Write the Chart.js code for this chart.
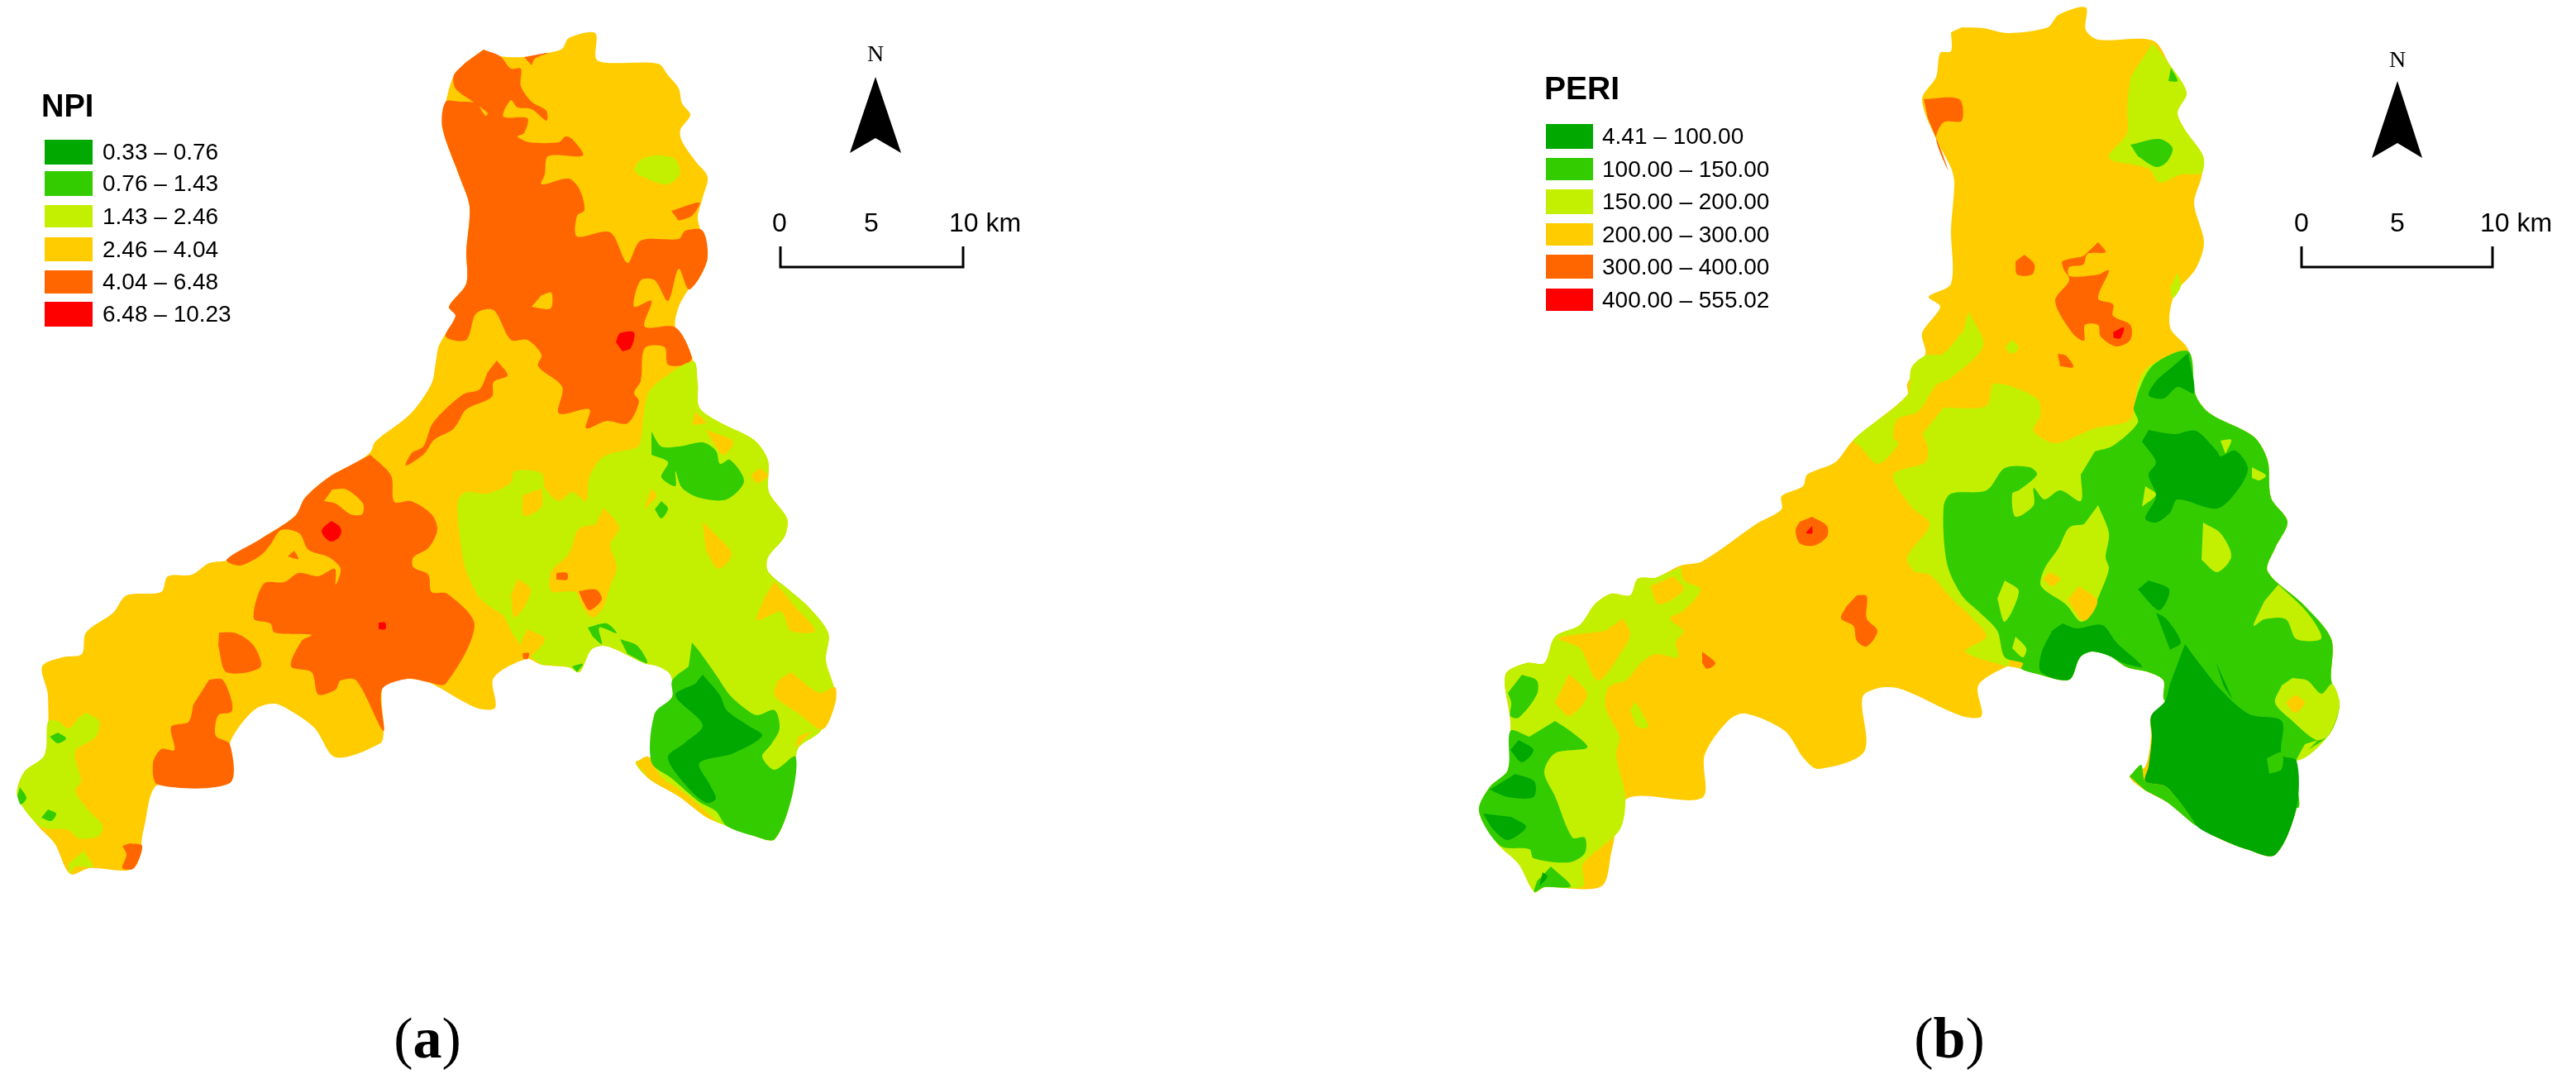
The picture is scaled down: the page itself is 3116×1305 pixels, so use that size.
<!DOCTYPE html>
<html>
<head>
<meta charset="utf-8">
<title>NPI and PERI maps</title>
<script src="https://cdn.jsdelivr.net/npm/chart.js@4/dist/chart.umd.min.js"></script>
<style>
html, body { margin: 0; padding: 0; background: #fff; }
#page { position: relative; width: 3116px; height: 1305px; overflow: hidden; }
canvas { position: absolute; top: 0; }
.t { position: absolute; white-space: nowrap; font-family: "Liberation Sans", Arial, sans-serif; color: #000; line-height: 1; transform: translateY(-50%); }
.swatch { position: absolute; }
</style>
</head>
<body>
<div id="page">
  <canvas id="mapA"></canvas>
  <canvas id="mapB"></canvas>
</div>
<script>
// class colours, low to high
const classColors = ['#00A800', '#33CC00', '#C3F000', '#FFCC00', '#FF6600', '#FF0000'];
const npiLabels = ['0.33 – 0.76', '0.76 – 1.43', '1.43 – 2.46', '2.46 – 4.04', '4.04 – 6.48', '6.48 – 10.23'];
const periLabels = ['4.41 – 100.00', '100.00 – 150.00', '150.00 – 200.00', '200.00 – 300.00', '300.00 – 400.00', '400.00 – 555.02'];
const scaleLabels = ['0', '5', '10 km'];

// map polygons, [class index, outline], painted in this order
const npiLayers = [
  [3, [[585,60],[605,68],[634,69],[663,64],[680,59],[688,46],[720,40],[721,71],[734,76],[796,77],[808,91],[821,107],[825,125],[835,139],[823,157],[825,171],[842,196],[856,214],[850,239],[844,264],[850,286],[856,311],[846,336],[833,350],[821,371],[817,396],[837,432],[844,464],[846,493],[871,511],[912,532],[929,557],[930,595],[952,627],[949,649],[929,674],[929,691],[954,713],[978,734],[1002,766],[999,799],[1010,838],[1003,866],[991,886],[966,904],[962,924],[958,963],[937,1015],[912,1011],[879,999],[854,988],[821,963],[796,949],[784,941],[769,922],[788,915],[792,888],[792,863],[813,843],[811,816],[796,806],[779,802],[746,786],[730,781],[715,786],[701,813],[688,807],[655,804],[637,797],[597,820],[599,856],[576,856],[518,825],[493,821],[473,824],[462,834],[464,884],[460,899],[406,916],[381,881],[357,863],[332,851],[307,859],[278,899],[278,947],[191,949],[174,1002],[162,1050],[108,1050],[85,1057],[66,1020],[46,999],[21,963],[29,934],[54,913],[58,841],[51,806],[75,795],[99,791],[104,765],[137,741],[153,720],[195,716],[203,697],[232,695],[253,681],[278,677],[315,652],[357,624],[369,602],[398,577],[431,559],[448,547],[454,534],[497,500],[522,464],[527,439],[531,418],[551,382],[543,371],[564,343],[564,304],[568,250],[556,214],[535,154],[539,125],[549,91],[564,75]]],
  [4, [[585,60],[605,68],[618,83],[630,83],[630,104],[643,123],[661,134],[661,146],[643,132],[626,130],[618,121],[609,141],[638,143],[634,161],[626,165],[640,172],[676,172],[684,165],[692,168],[705,188],[663,189],[659,211],[655,223],[688,216],[701,229],[707,254],[698,261],[698,286],[738,281],[759,318],[775,291],[821,289],[829,279],[850,279],[856,311],[846,336],[833,350],[821,325],[808,364],[792,339],[775,339],[767,371],[788,364],[780,395],[817,396],[837,432],[829,441],[808,441],[804,420],[780,421],[775,461],[767,475],[773,486],[759,512],[734,509],[709,518],[713,495],[676,500],[680,468],[651,443],[655,429],[638,411],[618,411],[597,375],[576,379],[564,411],[539,407],[551,382],[543,371],[564,343],[564,304],[568,250],[556,214],[535,154],[539,123],[557,123],[576,125],[587,140],[590,137],[572,123],[551,107],[549,91],[564,75]]],
  [3, [[655,357],[667,354],[666,373],[643,371]]],
  [4, [[634,69],[663,64],[647,71],[643,79]]],
  [2, [[767,204],[775,193],[796,188],[817,193],[822,211],[808,223],[792,220],[771,211]]],
  [4, [[812,255],[846,245],[837,261],[821,267]]],
  [5, [[745,414],[750,403],[767,402],[763,421],[753,425]]],
  [4, [[601,436],[614,454],[597,462],[595,480],[564,495],[554,511],[547,520],[525,532],[513,549],[491,563],[498,548],[512,540],[524,511],[560,477],[580,471],[590,450]]],
  [2, [[645,797],[622,770],[609,745],[593,734],[580,723],[564,691],[557,656],[554,606],[564,595],[589,597],[618,584],[622,570],[655,572],[659,590],[676,606],[692,595],[709,606],[713,577],[730,552],[771,541],[775,532],[783,478],[800,459],[839,437],[844,464],[846,493],[871,511],[912,532],[929,557],[930,595],[952,627],[949,649],[929,674],[929,691],[954,713],[978,734],[1002,766],[999,799],[1010,838],[1003,866],[991,886],[966,904],[962,924],[958,963],[937,1015],[912,1011],[879,999],[854,988],[821,963],[796,949],[784,941],[769,922],[788,915],[792,888],[792,863],[813,843],[811,816],[796,806],[779,802],[746,786],[730,781],[715,786],[701,813],[688,807],[655,804]]],
  [3, [[638,761],[659,773],[638,795],[630,777]]],
  [3, [[730,614],[749,638],[738,659],[746,686],[738,709],[730,734],[717,747],[705,734],[696,716],[667,715],[667,691],[688,670],[700,640],[721,634]]],
  [4, [[673,693],[686,693],[686,701],[673,701]]],
  [4, [[700,715],[721,713],[728,725],[713,738],[705,727]]],
  [3, [[626,700],[642,713],[634,734],[622,747],[618,720]]],
  [3, [[655,591],[655,613],[634,624],[632,599]]],
  [1, [[711,759],[734,754],[746,766],[725,759],[728,779],[717,770]]],
  [1, [[750,773],[771,781],[783,802],[759,791]]],
  [1, [[692,806],[705,803],[698,813]]],
  [4, [[632,790],[640,790],[638,797],[633,797]]],
  [3, [[788,591],[794,600],[779,616]]],
  [1, [[800,606],[808,615],[800,627],[792,616]]],
  [1, [[788,522],[800,540],[821,540],[850,535],[866,545],[871,561],[883,556],[900,582],[879,604],[846,602],[825,590],[817,570],[817,588],[800,577],[808,559],[788,550]]],
  [3, [[919,566],[929,575],[916,584],[908,575]]],
  [3, [[850,631],[866,647],[885,670],[869,688],[854,666]]],
  [3, [[854,520],[887,534],[875,550],[862,534]]],
  [3, [[841,498],[854,511],[837,514]]],
  [3, [[937,703],[962,734],[986,763],[957,763],[945,740],[916,750],[924,724]]],
  [3, [[957,813],[991,838],[1010,831],[1010,852],[995,882],[966,863],[937,841],[941,823]]],
  [3, [[982,884],[962,904],[966,891]]],
  [3, [[769,922],[784,915],[800,940],[829,960],[866,993],[854,988],[821,963],[796,949],[784,941]]],
  [1, [[837,777],[846,788],[866,816],[883,841],[904,859],[916,865],[937,859],[943,881],[933,900],[922,915],[937,931],[962,915],[958,963],[937,1015],[912,1011],[879,999],[866,981],[846,970],[812,941],[788,922],[792,863],[813,843],[813,823],[833,806]]],
  [0, [[850,816],[871,841],[879,859],[904,877],[922,890],[887,911],[846,923],[858,948],[866,966],[854,971],[829,949],[808,916],[829,898],[850,877],[817,841],[841,827]]],
  [4, [[265,765],[286,766],[307,781],[315,807],[274,813],[264,781]]],
  [4, [[253,822],[269,822],[280,847],[280,861],[264,865],[261,890],[278,900],[278,947],[191,949],[185,923],[195,906],[211,907],[207,879],[228,873],[234,852]]],
  [4, [[448,550],[473,575],[477,607],[497,606],[522,622],[529,641],[518,663],[500,674],[500,686],[518,695],[522,716],[541,718],[574,756],[539,827],[518,825],[493,821],[462,834],[464,884],[431,823],[412,823],[406,834],[385,840],[377,813],[352,806],[365,775],[377,768],[332,765],[327,754],[307,748],[319,706],[344,704],[361,693],[385,697],[405,688],[406,707],[412,688],[398,674],[373,665],[362,645],[340,641],[327,659],[315,672],[290,684],[274,677],[315,652],[357,624],[369,602],[398,577],[431,559]]],
  [3, [[402,592],[419,592],[439,609],[438,622],[424,622],[406,609],[392,606]]],
  [4, [[356,666],[361,676],[348,673]]],
  [5, [[401,630],[410,636],[413,642],[410,650],[401,655],[393,650],[389,642],[393,636]]],
  [5, [[458,753],[466,753],[466,761],[458,761]]],
  [2, [[104,862],[120,872],[116,891],[91,909],[98,945],[91,957],[108,981],[124,998],[120,1011],[95,1014],[83,1004],[50,1000],[21,963],[29,934],[54,913],[58,873],[70,872],[83,881],[95,868]]],
  [1, [[70,886],[80,893],[70,899],[60,891]]],
  [1, [[58,979],[68,984],[62,993],[50,989]]],
  [1, [[24,952],[32,965],[25,973],[21,963]]],
  [2, [[101,1029],[112,1048],[91,1048],[85,1057],[83,1045]]],
  [4, [[157,1020],[172,1023],[162,1050],[148,1050],[153,1034],[148,1023]]]
];

const periLayers = [
  [3, [[2373,33],[2399,34],[2429,40],[2477,33],[2490,18],[2523,9],[2523,36],[2538,48],[2604,49],[2625,79],[2645,112],[2634,136],[2643,157],[2665,189],[2663,214],[2654,246],[2666,293],[2656,325],[2630,357],[2625,396],[2647,423],[2656,478],[2673,500],[2726,528],[2743,557],[2747,602],[2767,631],[2752,663],[2743,691],[2786,731],[2820,773],[2820,823],[2830,852],[2817,889],[2778,920],[2778,977],[2752,1034],[2717,1027],[2682,1013],[2656,998],[2621,970],[2595,956],[2576,939],[2595,927],[2602,891],[2602,866],[2619,848],[2617,823],[2599,813],[2573,807],[2551,793],[2530,788],[2516,795],[2503,822],[2464,815],[2438,807],[2428,806],[2393,829],[2397,866],[2373,866],[2316,840],[2294,832],[2273,832],[2253,843],[2255,909],[2199,930],[2181,916],[2159,884],[2111,863],[2090,872],[2062,913],[2059,965],[1968,966],[1950,1027],[1937,1072],[1868,1073],[1856,1079],[1837,1045],[1811,1020],[1789,981],[1802,952],[1824,931],[1827,873],[1821,816],[1846,802],[1868,802],[1881,770],[1911,756],[1929,731],[1949,718],[1972,720],[1981,700],[2002,699],[2033,684],[2059,679],[2124,634],[2155,616],[2155,600],[2181,588],[2186,574],[2220,559],[2242,532],[2307,478],[2307,464],[2329,428],[2325,403],[2347,371],[2333,359],[2360,343],[2360,278],[2364,221],[2360,203],[2342,168],[2325,120],[2342,93],[2347,64],[2360,62],[2360,39]]],
  [4, [[2327,120],[2370,120],[2373,146],[2351,148],[2342,168],[2357,207],[2347,179],[2332,143]]],
  [2, [[2604,52],[2625,79],[2645,112],[2634,136],[2643,157],[2665,189],[2663,209],[2638,211],[2612,221],[2599,204],[2551,191],[2573,161],[2573,132],[2577,93]]],
  [1, [[2626,82],[2634,98],[2623,98]]],
  [1, [[2577,175],[2612,168],[2628,179],[2621,196],[2608,202],[2586,189]]],
  [4, [[2449,308],[2461,320],[2458,332],[2440,332],[2438,316]]],
  [4, [[2538,293],[2547,305],[2525,307],[2520,320],[2503,323],[2503,334],[2538,332],[2551,327],[2538,361],[2556,368],[2556,382],[2577,393],[2577,411],[2560,419],[2541,407],[2538,393],[2522,393],[2521,412],[2507,403],[2486,364],[2503,339],[2496,325],[2495,316],[2520,310]]],
  [5, [[2556,402],[2569,396],[2565,409],[2557,409]]],
  [2, [[2634,330],[2638,346],[2628,361],[2625,348]]],
  [4, [[2489,428],[2499,430],[2508,444],[2492,443]]],
  [2, [[2434,411],[2442,420],[2434,428],[2425,420]]],
  [2, [[2381,377],[2399,418],[2360,457],[2342,466],[2320,498],[2295,507],[2290,530],[2297,536],[2272,561],[2250,540],[2242,532],[2307,478],[2312,445],[2329,430],[2350,428],[2375,400]]],
  [2, [[2351,493],[2403,491],[2412,464],[2464,482],[2468,503],[2460,521],[2486,536],[2534,518],[2577,507],[2586,464],[2599,443],[2647,425],[2656,478],[2673,500],[2726,528],[2743,557],[2747,602],[2767,631],[2752,663],[2743,691],[2786,731],[2820,773],[2820,823],[2830,852],[2817,889],[2778,920],[2700,900],[2619,848],[2617,823],[2599,813],[2573,807],[2551,793],[2530,788],[2516,795],[2503,822],[2464,815],[2438,807],[2428,806],[2377,788],[2403,770],[2386,748],[2360,723],[2334,695],[2316,691],[2307,674],[2334,634],[2312,613],[2290,574],[2329,559],[2332,541],[2325,525]]],
  [3, [[2431,790],[2447,795],[2445,807],[2430,806]]],
  [1, [[2534,546],[2556,539],[2586,511],[2581,493],[2603,443],[2647,425],[2656,478],[2673,500],[2726,528],[2743,557],[2747,602],[2767,631],[2752,663],[2743,691],[2786,731],[2820,773],[2820,823],[2830,852],[2817,889],[2778,920],[2778,977],[2619,848],[2617,823],[2599,813],[2573,807],[2551,793],[2530,788],[2516,795],[2503,822],[2464,815],[2445,809],[2447,802],[2425,795],[2416,763],[2395,741],[2373,720],[2355,681],[2351,613],[2360,597],[2403,593],[2425,566],[2455,565],[2464,574],[2442,593],[2434,597],[2438,625],[2460,611],[2460,590],[2473,604],[2492,593],[2517,606],[2517,574]]],
  [2, [[2538,611],[2551,645],[2547,674],[2551,688],[2538,723],[2530,741],[2517,752],[2499,731],[2469,709],[2473,688],[2490,663],[2503,638],[2521,634]]],
  [3, [[2480,692],[2492,700],[2482,709],[2471,700]]],
  [3, [[2515,709],[2537,727],[2521,751],[2501,725]]],
  [2, [[2425,702],[2442,715],[2425,752],[2416,724]]],
  [2, [[2438,770],[2451,784],[2447,795],[2434,784]]],
  [0, [[2495,754],[2512,760],[2543,756],[2560,777],[2591,806],[2569,802],[2551,793],[2530,788],[2516,795],[2503,822],[2469,813],[2469,791],[2482,763]]],
  [2, [[2665,632],[2686,645],[2699,673],[2682,692],[2663,677]]],
  [0, [[2599,520],[2630,525],[2656,521],[2682,546],[2686,552],[2704,545],[2719,566],[2708,591],[2682,615],[2634,604],[2625,620],[2608,632],[2595,627],[2608,600],[2599,574],[2608,559],[2591,534]]],
  [0, [[2647,427],[2654,475],[2634,468],[2617,482],[2599,478],[2608,461],[2625,446]]],
  [2, [[2686,533],[2699,532],[2692,549]]],
  [2, [[2724,565],[2741,575],[2733,581],[2724,578]]],
  [2, [[2595,588],[2608,598],[2591,613]]],
  [0, [[2599,702],[2624,713],[2612,738],[2586,713]]],
  [0, [[2608,741],[2621,749],[2638,777],[2625,786]]],
  [0, [[2643,779],[2660,802],[2686,834],[2721,864],[2760,872],[2760,913],[2778,920],[2778,977],[2752,1034],[2717,1027],[2682,1013],[2656,998],[2621,952],[2595,945],[2599,927],[2603,891],[2602,866],[2619,848],[2625,827]]],
  [1, [[2576,939],[2590,925],[2595,945],[2621,952],[2656,998],[2621,970],[2595,956]]],
  [1, [[2742,917],[2760,910],[2760,930],[2745,936]]],
  [0, [[2680,800],[2700,845],[2690,830]]],
  [2, [[2773,820],[2791,823],[2808,839],[2821,827],[2830,852],[2817,889],[2802,895],[2773,872],[2752,850],[2760,829]]],
  [2, [[2804,895],[2778,920],[2788,900]]],
  [3, [[2776,840],[2788,850],[2776,862],[2765,850]]],
  [2, [[2756,707],[2791,741],[2808,772],[2778,773],[2765,749],[2739,749],[2726,757],[2739,727]]],
  [2, [[2033,686],[2037,702],[2057,713],[2037,738],[2020,748],[2036,763],[2027,777],[2030,795],[2003,791],[1985,802],[1968,822],[1946,831],[1942,856],[1959,891],[1955,913],[1966,966],[1959,1004],[1915,1045],[1915,1072],[1868,1073],[1856,1079],[1837,1045],[1811,1020],[1789,981],[1802,952],[1824,931],[1827,873],[1821,816],[1846,802],[1868,802],[1881,770],[1911,756],[1929,731],[1949,718],[1972,720],[1981,700],[2002,699]]],
  [3, [[1963,748],[1972,766],[1963,786],[1933,823],[1911,784],[1885,772],[1942,763]]],
  [3, [[1898,815],[1920,840],[1898,866],[1881,850]]],
  [3, [[2024,697],[2037,713],[2007,731],[1996,709]]],
  [2, [[1978,848],[1994,879],[1981,879],[1972,859]]],
  [1, [[1841,816],[1859,823],[1859,840],[1837,868],[1827,866],[1828,850],[1824,838]]],
  [1, [[1881,872],[1902,886],[1920,904],[1881,911],[1868,934],[1881,963],[1902,1013],[1917,1013],[1917,1032],[1898,1043],[1855,1038],[1850,1027],[1815,1023],[1789,981],[1802,952],[1824,931],[1827,884],[1850,891]]],
  [0, [[1837,895],[1855,907],[1841,922],[1827,907]]],
  [0, [[1833,936],[1856,945],[1855,964],[1824,964],[1802,955]]],
  [0, [[1828,988],[1846,1000],[1824,1016],[1807,1004],[1794,984]]],
  [1, [[1876,1048],[1900,1072],[1868,1073],[1856,1079],[1859,1066]]],
  [0, [[1866,1055],[1872,1060],[1862,1072]]],
  [4, [[2192,625],[2210,636],[2210,649],[2194,660],[2177,657],[2172,641],[2177,631]]],
  [5, [[2192,636],[2192,645],[2184,645]]],
  [4, [[2246,720],[2258,721],[2258,748],[2271,763],[2258,782],[2246,775],[2242,757],[2227,748],[2233,734]]],
  [4, [[2059,788],[2075,802],[2065,809],[2059,802]]]
];

const northArrowA = [[1059,93],[1090,185],[1059,167],[1028,185]];
const northArrowB = [[2900,98],[2930,191],[2900,173],[2869,191]];
const scaleBarA = [[944,298],[944,323],[1165,323],[1165,298]];
const scaleBarB = [[2784,298],[2784,323],[3015,323],[3015,298]];

function shape(pts, color, i, tension) {
  return {
    data: pts, showLine: true, fill: 'shape', backgroundColor: color,
    borderWidth: 0, pointRadius: 0, tension: tension, order: -i
  };
}

function drawMap(id, left, width, layers, arrow, bar) {
  const canvas = document.getElementById(id);
  canvas.style.left = left + 'px';
  const datasets = layers.map(function(l, i) {
    return shape(l[1], classColors[l[0]], i, 0.3);
  });
  datasets.push(shape(arrow, '#000000', datasets.length, 0));
  datasets.push({
    data: bar, showLine: true, fill: false, borderColor: '#000000',
    borderWidth: 3, pointRadius: 0, order: -datasets.length
  });
  return new Chart(canvas.getContext('2d'), {
    type: 'scatter',
    data: { datasets: datasets },
    options: {
      responsive: false,
      animation: false,
      devicePixelRatio: 1,
      layout: { padding: 0 },
      plugins: { legend: { display: false }, tooltip: { enabled: false } },
      scales: {
        x: { type: 'linear', display: false, min: left, max: left + width },
        y: { type: 'linear', display: false, min: 0, max: 1305, reverse: true }
      }
    }
  });
}

// sizes first, Chart.js reads them from the canvas
document.getElementById('mapA').width = 1558;
document.getElementById('mapA').height = 1305;
document.getElementById('mapB').width = 1558;
document.getElementById('mapB').height = 1305;
drawMap('mapA', 0, 1558, npiLayers, northArrowA, scaleBarA);
drawMap('mapB', 1558, 1558, periLayers, northArrowB, scaleBarB);

const page = document.getElementById('page');
function addText(str, x, y, css) {
  const el = document.createElement('div');
  el.className = 't';
  el.textContent = str;
  el.style.left = x + 'px';
  el.style.top = y + 'px';
  el.style.cssText += css;
  page.appendChild(el);
  return el;
}
function addSwatch(x, y, w, h, color) {
  const el = document.createElement('div');
  el.className = 'swatch';
  el.style.cssText = 'left:' + x + 'px;top:' + y + 'px;width:' + w + 'px;height:' + h + 'px;background:' + color;
  page.appendChild(el);
}

// legends
const npiRows = [[169, 199], [207, 237], [248, 275], [287, 316], [327, 355], [365, 395]];
const periRows = [[150, 180], [191, 218], [229, 259], [270, 297], [308, 337], [349, 376]];
addText('NPI', 50, 128, 'font-size:38px;font-weight:bold;');
addText('PERI', 1868, 106, 'font-size:39px;font-weight:bold;');
npiLabels.forEach(function(s, i) {
  addSwatch(54, npiRows[i][0], 58, npiRows[i][1] - npiRows[i][0], classColors[i]);
  addText(s, 124, (npiRows[i][0] + npiRows[i][1]) / 2, 'font-size:28px;');
});
periLabels.forEach(function(s, i) {
  addSwatch(1870, periRows[i][0], 57, periRows[i][1] - periRows[i][0], classColors[i]);
  addText(s, 1938, (periRows[i][0] + periRows[i][1]) / 2, 'font-size:28px;');
});

// north marks and scale labels
const serif = 'font-family:"Liberation Serif",serif;';
addText('N', 1059, 65, serif + 'font-size:28px;transform:translate(-50%,-50%);');
addText('N', 2900, 72, serif + 'font-size:28px;transform:translate(-50%,-50%);');
const center = 'font-size:32px;transform:translate(-50%,-50%);';
addText(scaleLabels[0], 943, 269, center);
addText(scaleLabels[1], 1054, 269, center);
addText(scaleLabels[2], 1148, 269, 'font-size:32px;');
addText(scaleLabels[0], 2784, 269, center);
addText(scaleLabels[1], 2900, 269, center);
addText(scaleLabels[2], 3000, 269, 'font-size:32px;');

// panel captions
function caption(letter, x) {
  const el = addText('', x, 1256, serif + 'font-size:70px;transform:translate(-50%,-50%);');
  el.innerHTML = '(<b>' + letter + '</b>)';
}
caption('a', 517);
caption('b', 2358);
</script>
</body>
</html>
